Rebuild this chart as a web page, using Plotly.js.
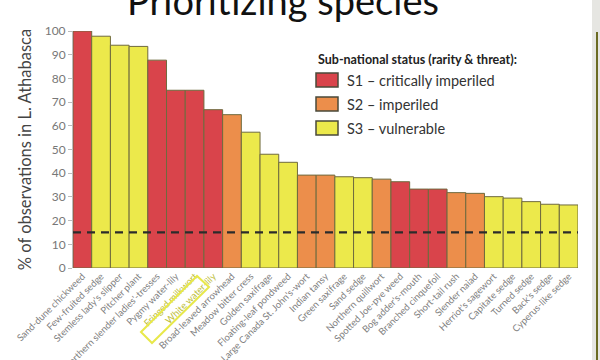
<!DOCTYPE html>
<html>
<head>
<meta charset="utf-8">
<script src="https://cdn.plot.ly/plotly-3.0.1.min.js"></script>
<style>html,body{margin:0;padding:0;background:#fff;}#chart{width:600px;height:360px;}</style>
</head>
<body>
<div id="chart"></div>
<script>
const species = [
  "Sand-dune chickweed","Few-fruited sedge","Stemless lady's slipper","Pitcher plant",
  "Northern slender ladies'-tresses","Pygmy water-lily","Fringed milkwort","White water-lily",
  "Broad-leaved arrowhead","Meadow bitter cress","Golden saxifrage","Floating-leaf pondweed",
  "Large Canada St. John's-wort","Indian tansy","Green saxifrage","Sand sedge",
  "Northern quillwort","Spotted Joe-pye weed","Bog adder's-mouth","Branched cinquefoil",
  "Short-tail rush","Slender naiad","Herriot's sagewort","Capitate sedge",
  "Turned sedge","Back's sedge","Cyperus-like sedge"
];
const pctObserved = [100,97.8,94,93.5,87.7,75,75,66.8,64.7,57.3,48,44.6,39.2,39.2,38.5,38.1,37.5,36.4,33.3,33.3,31.8,31.5,30.1,29.5,28,26.9,26.6];
const status = ["S1","S3","S3","S3","S1","S1","S1","S1","S2","S3","S3","S3","S2","S2","S3","S3","S2","S1","S1","S1","S2","S2","S3","S3","S3","S3","S3"];
const highlighted = ["Fringed milkwort","White water-lily"];
const threshold = 15;
const statusNames = ["S1","S2","S3"];
const statusLabels = ["S1 \u2013 critically imperiled","S2 \u2013 imperiled","S3 \u2013 vulnerable"];
const yTicks = [0,10,20,30,40,50,60,70,80,90,100];

const colorOf = {S1:"#d9444b", S2:"#ec8e4b", S3:"#ece94b"};

const W=600,H=360, L=73, R=22, T=31, B=92;
const pw=W-L-R, ph=H-T-B;
const px=(x)=>(x-L)/pw;
const py=(y)=>(H-B-y)/ph;

const tickText = species.map(s => highlighted.includes(s) ? '<span style="color:#bdbd3a">'+s+'</span>' : s);

const trace = {
  type:"bar",
  x: species,
  y: pctObserved,
  marker:{color: status.map(s=>colorOf[s]), line:{color:"#6f6a3e", width:1}},
  hoverinfo:"x+y",
  showlegend:false
};

const shapes = [
  {type:"line", xref:"paper", yref:"y", x0:0, x1:1, y0:threshold, y1:threshold,
   line:{color:"#2b2b2b", width:2.2, dash:"8px,6px"}},
  {type:"path", xref:"paper", yref:"paper",
   path:`M ${px(141)} ${py(332)} L ${px(197)} ${py(276)} L ${px(209)} ${py(287)} L ${px(152)} ${py(343)} Z`,
   line:{color:"#e8e84a", width:2}},
  {type:"rect", xref:"paper", yref:"paper", x0:px(592), x1:px(600), y0:py(360), y1:py(0),
   fillcolor:"#e6e6e2", line:{width:0}},
  {type:"line", xref:"paper", yref:"paper", x0:px(597), x1:px(597), y0:py(32), y1:py(360),
   line:{color:"#6b6b22", width:2}}
];
const annotations = [
  {xref:"paper", yref:"paper", x:px(283), y:py(0), text:"Prioritizing species", showarrow:false,
   xanchor:"center", yanchor:"middle", font:{family:"Lato, sans-serif", size:38, color:"#111"}},
  {xref:"paper", yref:"paper", x:px(316), y:py(60), text:"<b>Sub-national status (rarity &amp; threat):</b>", showarrow:false,
   xanchor:"left", yanchor:"middle", font:{family:"Lato, sans-serif", size:12.5, color:"#222"}}
];
statusNames.forEach((s,i)=>{
  const cy = 80 + 24*i;
  shapes.push({type:"rect", xref:"paper", yref:"paper", x0:px(316), x1:px(338), y0:py(cy+7), y1:py(cy-7),
    fillcolor:colorOf[s], line:{color:"#4a4a3a", width:1.5}});
  annotations.push({xref:"paper", yref:"paper", x:px(345), y:py(cy), text:statusLabels[i], showarrow:false,
    xanchor:"left", yanchor:"middle", font:{family:"Lato, sans-serif", size:14.5, color:"#333"}});
});

const layout = {
  width:W, height:H,
  margin:{l:L, r:R, t:T, b:B, pad:0},
  paper_bgcolor:"#fff", plot_bgcolor:"#fff",
  bargap:0,
  showlegend:false,
  xaxis:{
    tickmode:"array", tickvals:species, ticktext:tickText, tickangle:-45,
    tickfont:{family:"Lato, sans-serif", size:9.5, color:"#808080"},
    showline:false, ticks:"", showgrid:false, zeroline:false, automargin:false
  },
  yaxis:{
    range:[0,100], tickmode:"array", tickvals:yTicks,
    tickfont:{family:"Lato, sans-serif", size:12, color:"#777"},
    showline:true, linecolor:"#bbb", linewidth:1, ticks:"outside", ticklen:4, tickcolor:"#bbb",
    showgrid:false, zeroline:false, automargin:false,
    title:{text:"% of observations in L. Athabasca", standoff:8, font:{family:"Lato, sans-serif", size:16.5, color:"#444"}}
  },
  shapes: shapes,
  annotations: annotations
};
Plotly.newPlot("chart",[trace],layout,{displayModeBar:false, staticPlot:true});
</script>
</body>
</html>
